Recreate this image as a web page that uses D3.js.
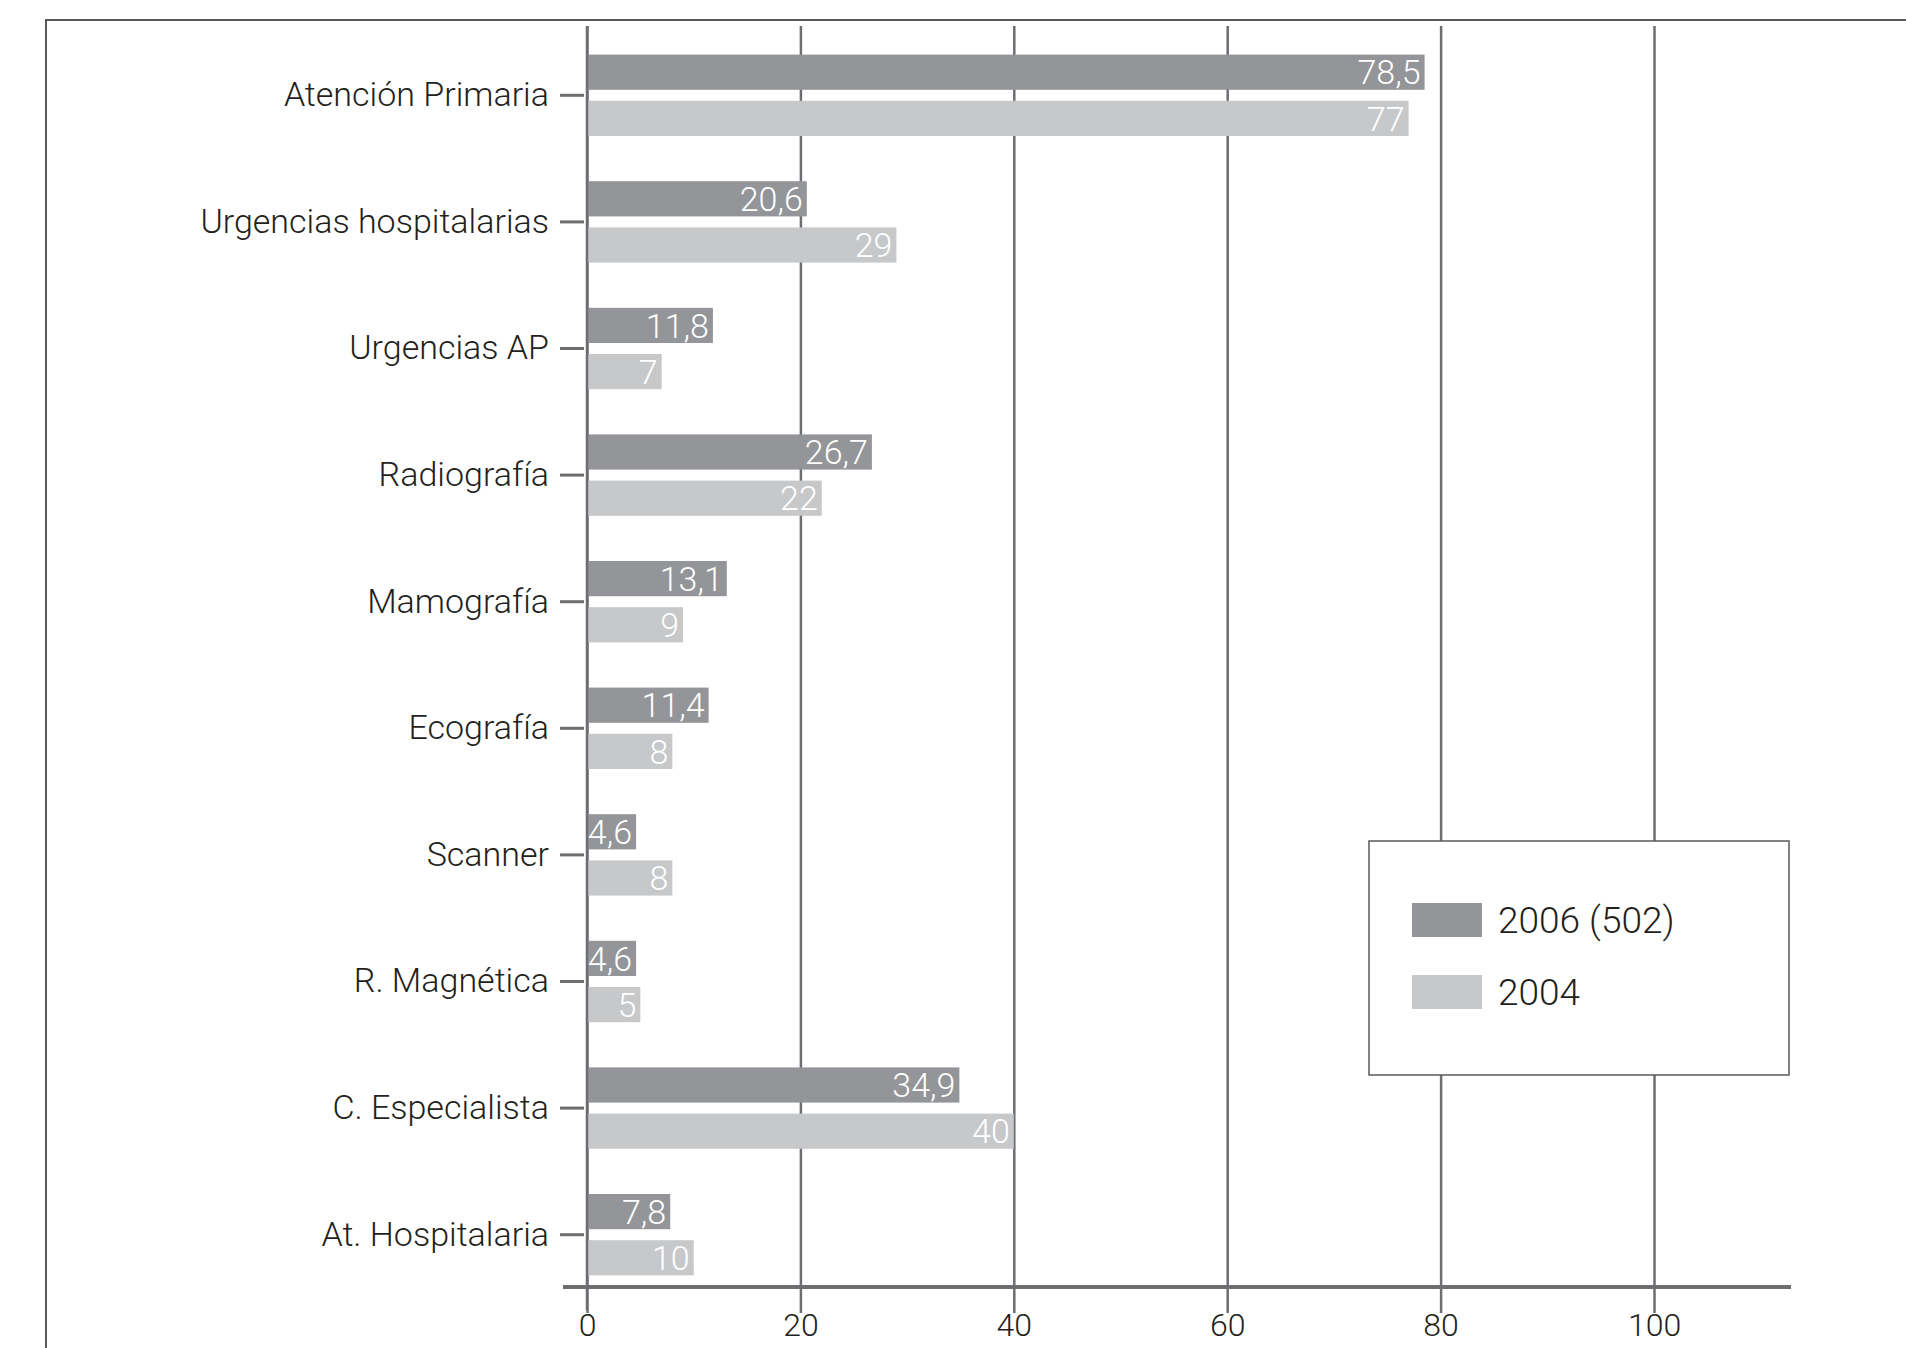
<!DOCTYPE html>
<html>
<head>
<meta charset="utf-8">
<script src="https://cdn.jsdelivr.net/npm/d3@7"></script>
<style>
  html, body { margin: 0; padding: 0; background: #ffffff; }
  svg { display: block; }
</style>
</head>
<body>
<svg id="chart" width="1906" height="1348"></svg>
<script>
// ---- data ----
const categories = ["Atención Primaria", "Urgencias hospitalarias", "Urgencias AP", "Radiografía",
  "Mamografía", "Ecografía", "Scanner", "R. Magnética", "C. Especialista", "At. Hospitalaria"];
const values2006 = [78.5, 20.6, 11.8, 26.7, 13.1, 11.4, 4.6, 4.6, 34.9, 7.8];
const values2004 = [77, 29, 7, 22, 9, 8, 8, 5, 40, 10];
const seriesNames = ["2006 (502)", "2004"];
const xTickValues = [0, 20, 40, 60, 80, 100];

// ---- styles ----
const colors = ["#939598", "#c7c8ca"];
const gridColor = "#6d6e71";
const frameColor = "#58595b";
const textColor = "#231f20";
const fontFamily = "Roboto, 'Liberation Sans', sans-serif";

const locale = d3.formatLocale({decimal: ",", thousands: ".", grouping: [3], currency: ["", "€"]});
const fmt = locale.format("");

const series = [values2006, values2004];

const svg = d3.select("#chart");

// frame
svg.append("rect")
  .attr("x", 46).attr("y", 20).attr("width", 2000).attr("height", 1500)
  .attr("fill", "#fff").attr("stroke", frameColor).attr("stroke-width", 2);

const x = d3.scaleLinear().domain([0, 100]).range([587, 1654]);
const y = d3.scaleBand().domain(categories).range([32, 1298]).padding(0);
const sub = d3.scaleBand().domain(d3.range(series.length)).range([-40.7, 40.7]).paddingInner(0.238);

const gridTop = 26, gridBottom = 1313, axisY = 1287;

// gridlines + bottom tick labels via axis
const xAxis = d3.axisBottom(x).tickValues(xTickValues).tickSizeInner(-(gridBottom - gridTop)).tickSizeOuter(0).tickPadding(0);
const gx = svg.append("g").attr("transform", `translate(0,${gridBottom})`).call(xAxis);
gx.select(".domain").remove();
gx.selectAll(".tick line").attr("stroke", gridColor).attr("stroke-width", 2.5);
gx.selectAll(".tick text").attr("fill", textColor).attr("font-family", fontFamily)
  .attr("font-size", 32).attr("font-weight", 300);

// bottom axis line
svg.append("line").attr("x1", 563).attr("x2", 1791).attr("y1", axisY).attr("y2", axisY)
  .attr("stroke", gridColor).attr("stroke-width", 4);

// bars
const groups = svg.append("g").selectAll("g")
  .data(categories)
  .join("g")
  .attr("transform", d => `translate(0,${y(d) + y.bandwidth() / 2})`);

groups.each(function(cat, i) {
  const g = d3.select(this);
  series.forEach((vals, s) => {
    const v = vals[i];
    g.append("rect")
      .attr("x", x(0))
      .attr("y", sub(s))
      .attr("width", x(v) - x(0))
      .attr("height", sub.bandwidth())
      .attr("fill", colors[s]);
    g.append("text")
      .attr("x", x(v) - 4)
      .attr("y", sub(s) + sub.bandwidth() / 2)
      .attr("dy", "0.36em")
      .attr("text-anchor", "end")
      .attr("fill", "#ffffff")
      .attr("font-family", fontFamily)
      .attr("font-size", 34)
      .attr("font-weight", 300)
      .text(fmt(v));
  });
});

// category axis
const yAxis = d3.axisLeft(y).tickSizeInner(24).tickSizeOuter(0).tickPadding(11);
const gy = svg.append("g").attr("transform", `translate(${x(0) - 3},0)`).call(yAxis);
gy.select(".domain").remove();
gy.selectAll(".tick line").attr("stroke", gridColor).attr("stroke-width", 3);
gy.selectAll(".tick text").attr("fill", textColor).attr("font-family", fontFamily)
  .attr("font-size", 34).attr("font-weight", 300);

// zero line on top
svg.append("line").attr("x1", x(0)).attr("x2", x(0)).attr("y1", gridTop).attr("y2", 1310)
  .attr("stroke", gridColor).attr("stroke-width", 2.5);

// legend
const legend = svg.append("g").attr("transform", "translate(1369,841)");
legend.append("rect").attr("width", 420).attr("height", 234)
  .attr("fill", "#fff").attr("stroke", frameColor).attr("stroke-width", 1.5);
const items = legend.selectAll("g.item").data(seriesNames).join("g").attr("class", "item")
  .attr("transform", (d, i) => `translate(43,${62 + i * 72})`);
items.append("rect").attr("width", 70).attr("height", 34).attr("fill", (d, i) => colors[i]);
items.append("text").attr("x", 86).attr("y", 17).attr("dy", "0.36em")
  .attr("fill", textColor).attr("font-family", fontFamily)
  .attr("font-size", 37).attr("font-weight", 300)
  .text(d => d);
</script>
</body>
</html>
